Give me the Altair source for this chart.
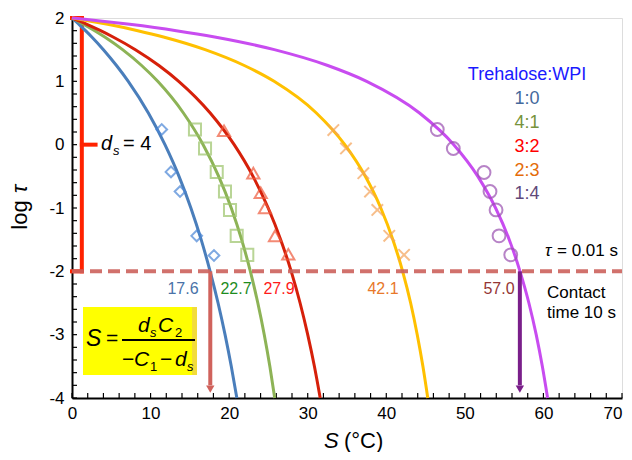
import altair as alt
import pandas as pd

# ---------------- data ----------------
ratios = ["1:0", "4:1", "3:2", "2:3", "1:4"]
legend_title = "Trehalose:WPI"

# fitted curves: log tau values and S for each ratio
curve_logtau = [2.0, 1.98, 1.95, 1.9, 1.8, 1.7, 1.5, 1.25, 1.0, 0.5, 0.0,
                -0.5, -1.0, -1.5, -2.0, -2.5, -3.0, -3.5, -4.0]
curve_S_10 = [0, 0.18, 0.45, 0.88, 1.72, 2.52, 4.00, 5.66, 7.16, 9.72, 11.83,
              13.62, 15.13, 16.44, 17.58, 18.59, 19.48, 20.27, 20.98]
curve_S_41 = [0, 0.31, 0.77, 1.51, 2.89, 4.17, 6.44, 8.86, 10.91, 14.18, 16.69,
              18.67, 20.27, 21.59, 22.70, 23.65, 24.47, 25.18, 25.80]
curve_S_32 = [0, 0.39, 0.97, 1.90, 3.64, 5.23, 8.07, 11.06, 13.58, 17.59, 20.64,
              23.04, 24.97, 26.56, 27.90, 29.03, 30.00, 30.85, 31.59]
curve_S_23 = [0, 0.97, 2.37, 4.54, 8.37, 11.64, 16.94, 21.93, 25.72, 31.10, 34.72,
              37.33, 39.30, 40.84, 42.08, 43.10, 43.94, 44.66, 45.28]
curve_S_14 = [0, 1.61, 3.88, 7.34, 13.27, 18.16, 25.75, 32.55, 37.50, 44.23, 48.59,
              51.65, 53.91, 55.65, 57.02, 58.15, 59.08, 59.86, 60.53]

# measured points
pts_S_10 = [11.42, 12.60, 13.75, 15.87, 18.07]
pts_t_10 = [0.24, -0.43, -0.74, -1.44, -1.75]
pts_S_41 = [15.65, 16.93, 18.42, 19.47, 20.11, 20.96, 22.31]
pts_t_41 = [0.24, -0.06, -0.43, -0.74, -1.03, -1.44, -1.74]
pts_S_32 = [19.35, 23.08, 24.02, 24.56, 25.84, 27.53]
pts_t_32 = [0.22, -0.45, -0.76, -1.00, -1.44, -1.73]
pts_S_23 = [33.26, 34.87, 37.08, 37.93, 38.86, 40.38, 42.26]
pts_t_23 = [0.23, -0.06, -0.45, -0.74, -1.03, -1.44, -1.74]
pts_S_14 = [46.49, 48.53, 52.44, 53.20, 53.97, 54.35, 55.84]
pts_t_14 = [0.24, -0.06, -0.44, -0.74, -1.03, -1.44, -1.74]

# S at log tau = -2 (contact time 10 s)
contact_S = [17.6, 22.7, 27.9, 42.1, 57.0]
criterion_logtau = -2
ds_value = 4

x_tick_labels = [0, 10, 20, 30, 40, 50, 60, 70]
y_tick_labels = [-4, -3, -2, -1, 0, 1, 2]
x_minor = list(range(0, 71, 2))
y_minor = [round(-4 + 0.2 * i, 1) for i in range(31)]

# ---------------- styles ----------------
FONT = "Liberation Sans"
OX, OY = 72, 18  # page position of plot origin (8 margin + padding)
curve_colors = ["#4a7ebb", "#8db356", "#d6200a", "#ffc000", "#c84cf0"]
marker_colors = ["#4a86d6", "#9cc46a", "#ef5a3c", "#f4a35a", "#9a50b0"]
ratio_colors = ["#44699c", "#77933c", "#ff0000", "#e46c0a", "#5f497a"]
value_colors = ["#4a72a8", "#1e8c1e", "#ff1a1a", "#e8782a", "#943634"]
marker_shapes = ["diamond", "square", "triangle-up",
                 "M -1 -1 L 1 1 M -1 1 L 1 -1", "circle"]
marker_sizes = [115, 145, 150, 130, 165]
value_px = [183, 236, 279, 383, 499]
legend_py = [99, 123, 147, 171, 194]

xs = alt.Scale(domain=[0, 70], nice=False, zero=False)
ys = alt.Scale(domain=[-4, 2], nice=False, zero=False)
axis_common = dict(title=None, grid=False, ticks=False, domainColor="black",
                   domainWidth=2, labelFont=FONT, labelFontSize=17,
                   labelColor="black", labelExpr="'' + datum.value",
                   labelFlush=False, labelOverlap=False)
X = alt.X("S:Q", scale=xs, axis=alt.Axis(values=x_tick_labels, labelPadding=7,
                                         labelAlign=alt.expr("datum.value >= 70 ? 'right' : 'center'"),
                                         **axis_common))
Y = alt.Y("t:Q", scale=ys, axis=alt.Axis(values=y_tick_labels, labelPadding=8, **axis_common))


def txt(s, x, y, size, color="black", italic=False, align="left",
        baseline="alphabetic", angle=0):
    return alt.Chart(pd.DataFrame({"s": [s]})).mark_text(
        font=FONT, fontSize=size, fontStyle="italic" if italic else "normal",
        color=color, align=align, baseline=baseline, angle=angle
    ).encode(x=alt.value(x - OX), y=alt.value(y - OY), text="s:N")


layers = []

# yellow formula box
layers.append(alt.Chart(pd.DataFrame({"a": [0]})).mark_rect(color="#ffff00").encode(
    x=alt.value(83 - OX), x2=alt.value(197 - OX), y=alt.value(307 - OY), y2=alt.value(375 - OY)))
layers.append(alt.Chart(pd.DataFrame({"a": [0]})).mark_rect(color="#f2dc3a").encode(
    x=alt.value(192 - OX), x2=alt.value(197 - OX), y=alt.value(307 - OY), y2=alt.value(375 - OY)))

# inward minor ticks
layers.append(alt.Chart(pd.DataFrame({"S": x_minor})).mark_rule(color="black", strokeWidth=1.2).encode(
    x=X, y=alt.value(380), y2=alt.value(375)))
layers.append(alt.Chart(pd.DataFrame({"t": y_minor})).mark_rule(color="black", strokeWidth=1.2).encode(
    y=Y, x=alt.value(0), x2=alt.value(5)))

# red bracket d_s = 4
bx = 1.25
br = pd.DataFrame({"S": [bx, 0, 0, bx], "S2": [bx, bx, bx, 3.0],
                   "t": [2, 2, criterion_logtau, 0], "t2": [criterion_logtau, 2, criterion_logtau, 0]})
layers.append(alt.Chart(br).mark_rule(color="#ff2200", strokeWidth=4, strokeCap="square").encode(
    x=X, x2="S2:Q", y=Y, y2="t2:Q"))

# curves
curve_S = [curve_S_10, curve_S_41, curve_S_32, curve_S_23, curve_S_14]
for i in range(5):
    d = pd.DataFrame({"S": curve_S[i], "t": curve_logtau})
    layers.append(alt.Chart(d).mark_line(color=curve_colors[i], strokeWidth=3,
                                         interpolate="monotone").encode(x=X, y=Y))

# measured markers
pts = [(pts_S_10, pts_t_10), (pts_S_41, pts_t_41), (pts_S_32, pts_t_32),
       (pts_S_23, pts_t_23), (pts_S_14, pts_t_14)]
for i in range(5):
    d = pd.DataFrame({"S": pts[i][0], "t": pts[i][1]})
    layers.append(alt.Chart(d).mark_point(shape=marker_shapes[i], size=marker_sizes[i],
                                          filled=False, strokeWidth=2, opacity=0.7,
                                          color=marker_colors[i]).encode(x=X, y=Y))

# dashed criterion line
layers.append(alt.Chart(pd.DataFrame({"S": [0], "S2": [70], "t": [criterion_logtau]})).mark_rule(
    color="#cc625c", strokeWidth=4, strokeDash=[12, 6], opacity=0.9).encode(x=X, x2="S2:Q", y=Y))

# arrows at 17.6 and 57.0
arrows = [(contact_S[0], "#d0625c"), (contact_S[4], "#7a1f8a")]
for s, c in arrows:
    layers.append(alt.Chart(pd.DataFrame({"S": [s], "t": [criterion_logtau], "t2": [-3.8]})).mark_rule(
        color=c, strokeWidth=4).encode(x=X, y=Y, y2="t2:Q"))
    layers.append(alt.Chart(pd.DataFrame({"S": [s], "t": [-3.86]})).mark_point(
        shape="triangle-down", filled=True, size=70, color=c, opacity=1).encode(x=X, y=Y))

# value labels
for i in range(5):
    layers.append(txt(f"{contact_S[i]:.1f}", value_px[i], 289, 16, value_colors[i],
                      align="center", baseline="middle"))

# legend text
layers.append(txt(legend_title, 527, 75, 18, "#1a1aff", align="center", baseline="middle"))
for i in range(5):
    layers.append(txt(ratios[i], 527, legend_py[i], 18, ratio_colors[i], align="center", baseline="middle"))

# tau = 0.01 s / contact time
layers.append(txt("τ", 545, 256, 17, italic=True))
layers.append(txt("= 0.01 s", 557, 256, 17))
layers.append(txt("Contact", 547, 298, 17))
layers.append(txt("time 10 s", 547, 318, 17))

# d_s = 4
layers.append(txt("d", 101, 150, 20, italic=True))
layers.append(txt("s", 113, 155, 13, italic=True))
layers.append(txt(f"= {ds_value}", 123, 150, 20))

# formula S = d_s C_2 / (-C_1 - d_s)
layers.append(txt("S", 86, 346, 23, italic=True))
layers.append(txt("=", 106, 345, 21))
layers.append(alt.Chart(pd.DataFrame({"a": [0]})).mark_rule(color="black", strokeWidth=2).encode(
    x=alt.value(122 - OX), x2=alt.value(195 - OX), y=alt.value(340 - OY)))
layers.append(txt("d", 138, 332, 21, italic=True))
layers.append(txt("s", 150, 337, 13, italic=True))
layers.append(txt("C", 158, 332, 21, italic=True))
layers.append(txt("2", 175, 337, 13))
layers.append(txt("−", 122, 366, 21))
layers.append(txt("C", 134, 366, 21, italic=True))
layers.append(txt("1", 150, 371, 13))
layers.append(txt("−", 160, 366, 21))
layers.append(txt("d", 175, 366, 21, italic=True))
layers.append(txt("s", 187, 371, 13, italic=True))

# axis titles
layers.append(txt("log", 27, 215, 22, angle=270, align="center"))
layers.append(txt("τ", 27, 189, 22, italic=True, angle=270, align="center"))
layers.append(txt("S", 324, 448, 22, italic=True))
layers.append(txt("(°C)", 344, 448, 22))

chart = alt.layer(*layers).properties(
    width=550, height=380,
    autosize=alt.AutoSizeParams(type="none"),
    padding={"left": 64, "top": 10, "right": 2, "bottom": 54},
).configure_view(stroke=None).configure(background="white")

chart.save("out.html", embed_options={"renderer": "svg", "actions": False})
